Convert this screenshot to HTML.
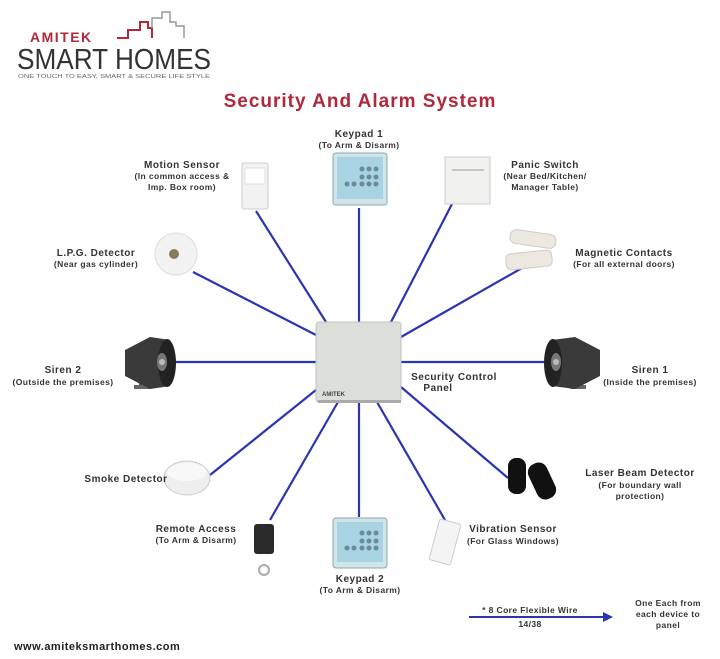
<!DOCTYPE html>
<html><head><meta charset="utf-8"><style>
body{margin:0;background:#fff;}
svg{display:block}
.t{font-family:"Liberation Sans",sans-serif;font-weight:bold;font-size:10px;fill:#333;letter-spacing:0.5px}
.s{font-family:"Liberation Sans",sans-serif;font-weight:bold;font-size:8.5px;fill:#333;letter-spacing:0.4px}
</style></head><body>
<svg width="720" height="659" viewBox="0 0 720 659" xmlns="http://www.w3.org/2000/svg">
<text x="30" y="42" font-family="Liberation Sans,sans-serif" font-size="14" font-weight="bold" fill="#b0283a" letter-spacing="1.5">AMITEK</text>
<polyline points="117,38 128,38 128,30 140,30 140,22 148,22 148,28 152,28 152,38" fill="none" stroke="#b0283a" stroke-width="2"/>
<polyline points="152,28 152,18 162,18 162,12 170,12 170,22 176,22 176,26 184,26 184,38" fill="none" stroke="#999" stroke-width="1.5"/>
<text x="17" y="69" font-family="Liberation Sans,sans-serif" font-size="29" fill="#333" textLength="194" lengthAdjust="spacingAndGlyphs">SMART HOMES</text>
<text x="18" y="78" font-family="Liberation Sans,sans-serif" font-size="5" fill="#666" textLength="192" lengthAdjust="spacingAndGlyphs">ONE TOUCH TO EASY, SMART &amp; SECURE LIFE STYLE</text>
<text x="360" y="107" text-anchor="middle" font-family="Liberation Sans,sans-serif" font-size="19" font-weight="bold" fill="#b0283a" letter-spacing="1">Security And Alarm System</text>
<g stroke="#2a35b0" stroke-width="2.2">
<line x1="359" y1="208" x2="359" y2="322"/>
<line x1="256" y1="211" x2="326" y2="322"/>
<line x1="452" y1="204" x2="391" y2="322"/>
<line x1="193" y1="272" x2="316" y2="335"/>
<line x1="522" y1="268" x2="401" y2="337"/>
<line x1="175" y1="362" x2="316" y2="362"/>
<line x1="401" y1="362" x2="545" y2="362"/>
<line x1="210" y1="475" x2="316" y2="390"/>
<line x1="508" y1="478" x2="401" y2="387"/>
<line x1="270" y1="520" x2="338" y2="402"/>
<line x1="359" y1="402" x2="359" y2="517"/>
<line x1="445" y1="520" x2="377" y2="402"/>
</g>
<rect x="316" y="322" width="85" height="80" rx="3" fill="#dcdfd9" stroke="#c0c3bd"/>
<rect x="318" y="400" width="83" height="3" fill="#aaa"/>
<text x="322" y="396" font-family="Liberation Sans,sans-serif" font-size="6" font-weight="bold" fill="#444">AMITEK</text>
<text x="454" y="380" text-anchor="middle" class="t">Security Control</text>
<text x="438" y="391" text-anchor="middle" class="t">Panel</text>
<rect x="333" y="153" width="54" height="52" rx="3" fill="#d2e4ea" stroke="#8aa"/>
<rect x="337" y="157" width="46" height="42" fill="#a8d3e2"/>
<g fill="#6a8a98"><circle cx="362" cy="169" r="2.5"/><circle cx="369" cy="169" r="2.5"/><circle cx="376" cy="169" r="2.5"/><circle cx="362" cy="177" r="2.5"/><circle cx="369" cy="177" r="2.5"/><circle cx="376" cy="177" r="2.5"/><circle cx="347" cy="184" r="2.5"/><circle cx="354" cy="184" r="2.5"/><circle cx="362" cy="184" r="2.5"/><circle cx="369" cy="184" r="2.5"/><circle cx="376" cy="184" r="2.5"/></g>
<text x="359" y="137" text-anchor="middle" class="t">Keypad 1</text>
<text x="359" y="148" text-anchor="middle" class="s">(To Arm &amp; Disarm)</text>
<rect x="242" y="163" width="26" height="46" rx="2" fill="#f2f2f2" stroke="#ccc"/>
<rect x="245" y="168" width="20" height="16" fill="#fff" stroke="#ddd"/>
<text x="182" y="168" text-anchor="middle" class="t">Motion Sensor</text>
<text x="182" y="179" text-anchor="middle" class="s">(In common access &amp;</text>
<text x="182" y="190" text-anchor="middle" class="s">Imp. Box room)</text>
<rect x="445" y="157" width="45" height="47" fill="#f1f1ef" stroke="#ccc"/>
<line x1="452" y1="170" x2="484" y2="170" stroke="#999"/>
<text x="545" y="168" text-anchor="middle" class="t">Panic Switch</text>
<text x="545" y="179" text-anchor="middle" class="s">(Near Bed/Kitchen/</text>
<text x="545" y="190" text-anchor="middle" class="s">Manager Table)</text>
<circle cx="176" cy="254" r="21" fill="#f2f2f2" stroke="#ddd"/>
<circle cx="174" cy="254" r="5" fill="#8a7a5a"/>
<text x="96" y="256" text-anchor="middle" class="t">L.P.G. Detector</text>
<text x="96" y="267" text-anchor="middle" class="s">(Near gas cylinder)</text>
<rect x="510" y="232" width="46" height="14" rx="6" fill="#ece8df" stroke="#ccc" transform="rotate(8 533 239)"/>
<rect x="506" y="252" width="46" height="16" rx="5" fill="#ece8df" stroke="#ccc" transform="rotate(-6 529 260)"/>
<text x="624" y="256" text-anchor="middle" class="t">Magnetic Contacts</text>
<text x="624" y="267" text-anchor="middle" class="s">(For all external doors)</text>
<!-- siren2: opening faces right -->
<g>
<rect x="139" y="375" width="6" height="12" fill="#555"/>
<rect x="134" y="385" width="16" height="4" fill="#666"/>
<polygon points="125,350 150,337 170,340 170,386 150,389 125,376" fill="#3a3a3a"/>
<ellipse cx="167" cy="363" rx="9" ry="24" fill="#222"/>
<ellipse cx="162" cy="362" rx="5" ry="9" fill="#777"/>
<circle cx="162" cy="362" r="3" fill="#bbb"/>
</g>
<text x="63" y="373" text-anchor="middle" class="t">Siren 2</text>
<text x="63" y="385" text-anchor="middle" class="s">(Outside the premises)</text>
<!-- siren1: opening faces left -->
<g>
<rect x="575" y="375" width="6" height="12" fill="#555"/>
<rect x="570" y="385" width="16" height="4" fill="#666"/>
<polygon points="600,350 575,337 552,340 552,386 575,389 600,376" fill="#3a3a3a"/>
<ellipse cx="553" cy="363" rx="9" ry="24" fill="#222"/>
<ellipse cx="556" cy="362" rx="5" ry="9" fill="#777"/>
<circle cx="556" cy="362" r="3" fill="#bbb"/>
</g>
<text x="650" y="373" text-anchor="middle" class="t">Siren 1</text>
<text x="650" y="385" text-anchor="middle" class="s">(Inside the premises)</text>
<ellipse cx="187" cy="478" rx="23" ry="17" fill="#eee" stroke="#ccc"/>
<ellipse cx="187" cy="472" rx="20" ry="9" fill="#f8f8f8"/>
<text x="126" y="482" text-anchor="middle" class="t">Smoke Detector</text>
<rect x="254" y="524" width="20" height="30" rx="3" fill="#2a2a2a"/>
<circle cx="264" cy="570" r="5" fill="none" stroke="#aaa" stroke-width="2"/>
<text x="196" y="532" text-anchor="middle" class="t">Remote Access</text>
<text x="196" y="543" text-anchor="middle" class="s">(To Arm &amp; Disarm)</text>
<rect x="333" y="518" width="54" height="50" rx="3" fill="#d2e4ea" stroke="#8aa"/>
<rect x="337" y="522" width="46" height="40" fill="#a8d3e2"/>
<g fill="#6a8a98"><circle cx="362" cy="533" r="2.5"/><circle cx="369" cy="533" r="2.5"/><circle cx="376" cy="533" r="2.5"/><circle cx="362" cy="541" r="2.5"/><circle cx="369" cy="541" r="2.5"/><circle cx="376" cy="541" r="2.5"/><circle cx="347" cy="548" r="2.5"/><circle cx="354" cy="548" r="2.5"/><circle cx="362" cy="548" r="2.5"/><circle cx="369" cy="548" r="2.5"/><circle cx="376" cy="548" r="2.5"/></g>
<text x="360" y="582" text-anchor="middle" class="t">Keypad 2</text>
<text x="360" y="593" text-anchor="middle" class="s">(To Arm &amp; Disarm)</text>
<rect x="434" y="521" width="22" height="42" rx="2" fill="#f4f4f4" stroke="#ccc" transform="rotate(15 445 542)"/>
<text x="513" y="532" text-anchor="middle" class="t">Vibration Sensor</text>
<text x="513" y="544" text-anchor="middle" class="s">(For Glass Windows)</text>
<rect x="508" y="458" width="18" height="36" rx="8" fill="#111"/>
<rect x="532" y="462" width="20" height="38" rx="9" fill="#111" transform="rotate(-25 542 481)"/>
<text x="640" y="476" text-anchor="middle" class="t">Laser Beam Detector</text>
<text x="640" y="488" text-anchor="middle" class="s">(For boundary wall</text>
<text x="640" y="499" text-anchor="middle" class="s">protection)</text>
<line x1="469" y1="617" x2="605" y2="617" stroke="#2a35b0" stroke-width="2"/>
<polygon points="603,612 613,617 603,622" fill="#2a35b0"/>
<text x="530" y="613" text-anchor="middle" class="s">* 8 Core Flexible Wire</text>
<text x="530" y="627" text-anchor="middle" class="s">14/38</text>
<text x="668" y="606" text-anchor="middle" class="s">One Each from</text>
<text x="668" y="617" text-anchor="middle" class="s">each device to</text>
<text x="668" y="628" text-anchor="middle" class="s">panel</text>
<text x="14" y="650" font-family="Liberation Sans,sans-serif" font-size="11" font-weight="bold" fill="#222" letter-spacing="0.5">www.amiteksmarthomes.com</text>
</svg>
</body></html>
